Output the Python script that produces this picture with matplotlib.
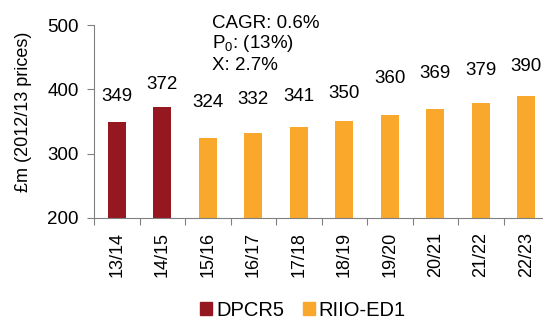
import matplotlib
matplotlib.use("Agg")
import matplotlib.pyplot as plt

plt.rcParams['font.family'] = ['Liberation Sans', 'DejaVu Sans']

years = ["13/14", "14/15", "15/16", "16/17", "17/18", "18/19", "19/20", "20/21", "21/22", "22/23"]
values = [349, 372, 324, 332, 341, 350, 360, 369, 379, 390]
period = ["DPCR5", "DPCR5", "RIIO-ED1", "RIIO-ED1", "RIIO-ED1", "RIIO-ED1",
          "RIIO-ED1", "RIIO-ED1", "RIIO-ED1", "RIIO-ED1"]
# how far each value label sits above its bar (pixels)
label_lift = [26, 23, 36, 34, 31, 28, 37, 36, 32, 29]

colours = {"DPCR5": "#951821", "RIIO-ED1": "#F9A82B"}

fig = plt.figure(figsize=(5.43, 3.20), dpi=100)
ax = fig.add_axes([94/543, 1 - 218/320, 455/543, 193/320])

x = list(range(len(years)))
for i in x:
    ax.bar(i, values[i] - 200, bottom=200, width=0.4, color=colours[period[i]],
           edgecolor="none", zorder=2)
    ax.annotate(str(values[i]), (i, values[i]), xytext=(0, label_lift[i]),
                textcoords="offset pixels", ha="center", va="center", fontsize=13.5)

ax.set_xlim(-0.5, len(years) - 0.5)
ax.set_ylim(200, 500)
ax.set_yticks([200, 300, 400, 500])
ax.tick_params(axis="y", labelsize=13.5, length=5, color="#808080", pad=6)
ax.set_xticks([i + 0.5 for i in range(-1, len(years))], minor=False)
ax.set_xticklabels([])
ax.set_xticks(x, minor=True)
ax.set_xticklabels(years, minor=True, rotation=90, fontsize=13)
ax.tick_params(axis="x", which="major", length=5, color="#808080")
ax.tick_params(axis="x", which="minor", length=0, pad=10)

for side in ("top", "right"):
    ax.spines[side].set_visible(False)
for side in ("left", "bottom"):
    ax.spines[side].set_color("#808080")

ax.set_ylabel("£m (2012/13 prices)", fontsize=13)
ax.yaxis.set_label_coords(-62/455, 0.55)

fig.text(212/543, 1 - 23/320, "CAGR: 0.6%", fontsize=13.5, va="center")
fig.text(212/543, 1 - 44/320, r"P$_{\mathregular{0}}$: (13%)", fontsize=13.5, va="center")
fig.text(212/543, 1 - 65/320, "X: 2.7%", fontsize=13.5, va="center")

handles = [plt.Rectangle((0, 0), 1, 1, color=colours[k]) for k in colours]
fig.legend(handles, list(colours), loc="center", bbox_to_anchor=(303/543, 1 - 310/320),
           ncol=2, frameon=False, fontsize=14.5, handlelength=0.6, handleheight=0.6,
           handletextpad=0.2, columnspacing=0.9)

fig.savefig("out.png", dpi=100)
